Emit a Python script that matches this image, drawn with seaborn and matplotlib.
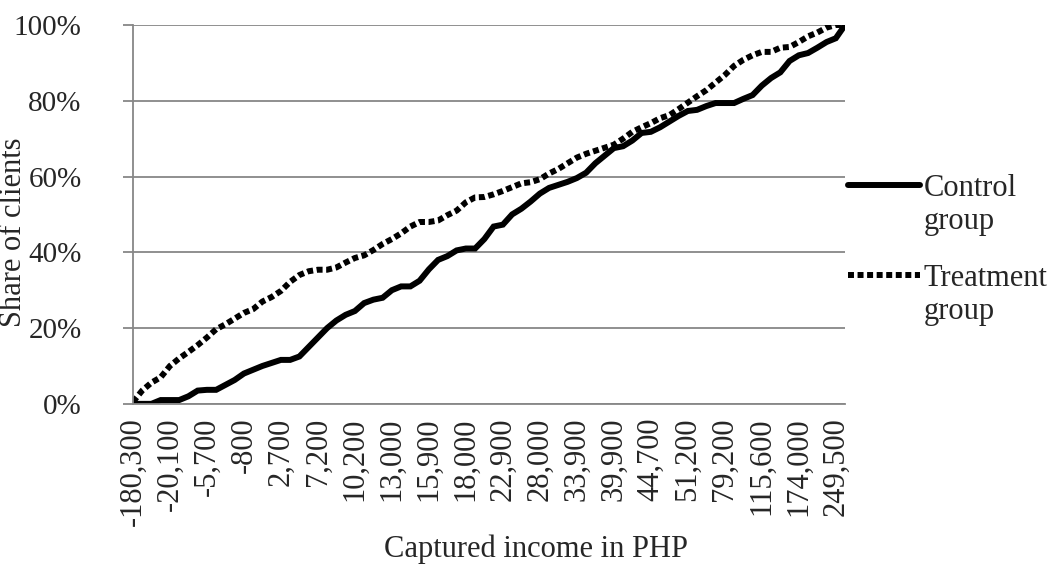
import pandas as pd
import matplotlib.pyplot as plt
import seaborn as sns
from matplotlib.ticker import PercentFormatter, FixedLocator
from matplotlib.lines import Line2D

sns.set_theme(style="white")
plt.rcParams['font.family'] = ['Liberation Serif', 'DejaVu Serif']

# Share of clients (%) at each income position
control = [0, 0, 0, 1, 1, 1, 2, 3.5, 3.7, 3.7,
           5, 6.3, 8, 9, 10, 10.8, 11.6, 11.6, 12.5, 15,
           17.5, 20, 22, 23.5, 24.5, 26.6, 27.5, 28, 30, 31,
           31, 32.5, 35.5, 38, 39, 40.5, 41, 41, 43.5, 46.8,
           47.3, 50, 51.5, 53.4, 55.5, 57, 57.8, 58.6, 59.6, 61,
           63.5, 65.5, 67.5, 68, 69.5, 71.5, 71.8, 73, 74.5, 76,
           77.3, 77.6, 78.6, 79.4, 79.4, 79.4, 80.5, 81.5, 84, 86,
           87.5, 90.5, 92, 92.6, 94, 95.5, 96.5, 100]
treatment = [0.5, 3.5, 5.6, 7, 10, 12, 13.7, 15.5, 17.5, 19.7,
             21, 22.5, 24, 25, 27, 28.2, 29.8, 32.2, 34, 35,
             35.4, 35.4, 36, 37.3, 38.5, 39.2, 40.6, 42.2, 43.5, 45,
             46.8, 48, 48, 48.4, 49.8, 51, 53.2, 54.5, 54.6, 55.3,
             56.2, 57.2, 58.2, 58.5, 59.3, 60.8, 62, 63.5, 65, 66,
             66.8, 67.6, 68.4, 70, 71.8, 73, 74.1, 75.4, 76.2, 77.8,
             79.5, 81.2, 82.8, 84.8, 86.8, 89.2, 90.8, 92, 92.9, 92.9,
             94, 94.2, 95.5, 97, 98, 99.3, 100, 100]

# every 4th category is labelled on the axis
tick_labels = ['-180,300', '-20,100', '-5,700', '-800', '2,700', '7,200',
               '10,200', '13,000', '15,900', '18,000', '22,900', '28,000',
               '33,900', '39,900', '44,700', '51,200', '79,200', '115,600',
               '174,000', '249,500']
tick_step = 4

df = pd.DataFrame({'pos': range(len(control)),
                   'control': control,
                   'treatment': treatment})

fig = plt.figure(figsize=(10.55, 5.68), dpi=100)
ax = fig.add_axes([0.126, 0.289, 0.675, 0.667])

grey = '#878787'
lw = 4.3
fs = 22
dotted = (0, (1, 0.6))

sns.lineplot(data=df, x='pos', y='control', ax=ax, color='black',
             linewidth=lw, solid_joinstyle='miter', legend=False)
sns.lineplot(data=df, x='pos', y='treatment', ax=ax, color='black',
             linewidth=lw, linestyle=dotted, dash_capstyle='butt',
             legend=False)

ax.set_xlim(0, len(control) - 1)
ax.set_ylim(0, 100)
ax.set_yticks([0, 20, 40, 60, 80, 100])
ax.yaxis.set_major_formatter(PercentFormatter(100, decimals=0))
ax.xaxis.set_major_locator(FixedLocator(range(0, len(control), tick_step)))
ax.set_xticklabels(tick_labels, rotation=90)

ax.grid(axis='y', color=grey, linewidth=1.3)
ax.grid(axis='x', visible=False)
for side in ['top', 'right']:
    ax.spines[side].set_visible(False)
for side in ['left', 'bottom']:
    ax.spines[side].set_color(grey)
    ax.spines[side].set_linewidth(1.3)
ax.set_axisbelow(True)

ax.tick_params(axis='y', labelsize=21, length=7, width=1.3, color=grey,
               left=True, pad=30)
ax.tick_params(axis='x', labelsize=fs, length=0, pad=10)

ax.set_xlabel('Captured income in PHP', fontsize=fs)
ax.set_ylabel('Share of clients', fontsize=fs)
ax.xaxis.set_label_coords(0.566, -0.345)
ax.yaxis.set_label_coords(-0.147, 0.454)

# legend drawn to the right of the plot, handles on the first line of text
x0, x1, xt = 848 / 1055, 920 / 1055, 924 / 1055
fig.add_artist(Line2D([x0, x1], [1 - 185 / 568] * 2,
                      color='black', linewidth=lw))
fig.add_artist(Line2D([x0, x1], [1 - 275 / 568] * 2,
                      color='black', linewidth=lw, linestyle=dotted,
                      dash_capstyle='butt'))
for txt, base in [('Control', 196), ('group', 229),
                  ('Treatment', 286), ('group', 319)]:
    fig.text(xt, 1 - base / 568, txt, fontsize=fs, va='baseline', ha='left')

fig.savefig('out.png', dpi=100)
